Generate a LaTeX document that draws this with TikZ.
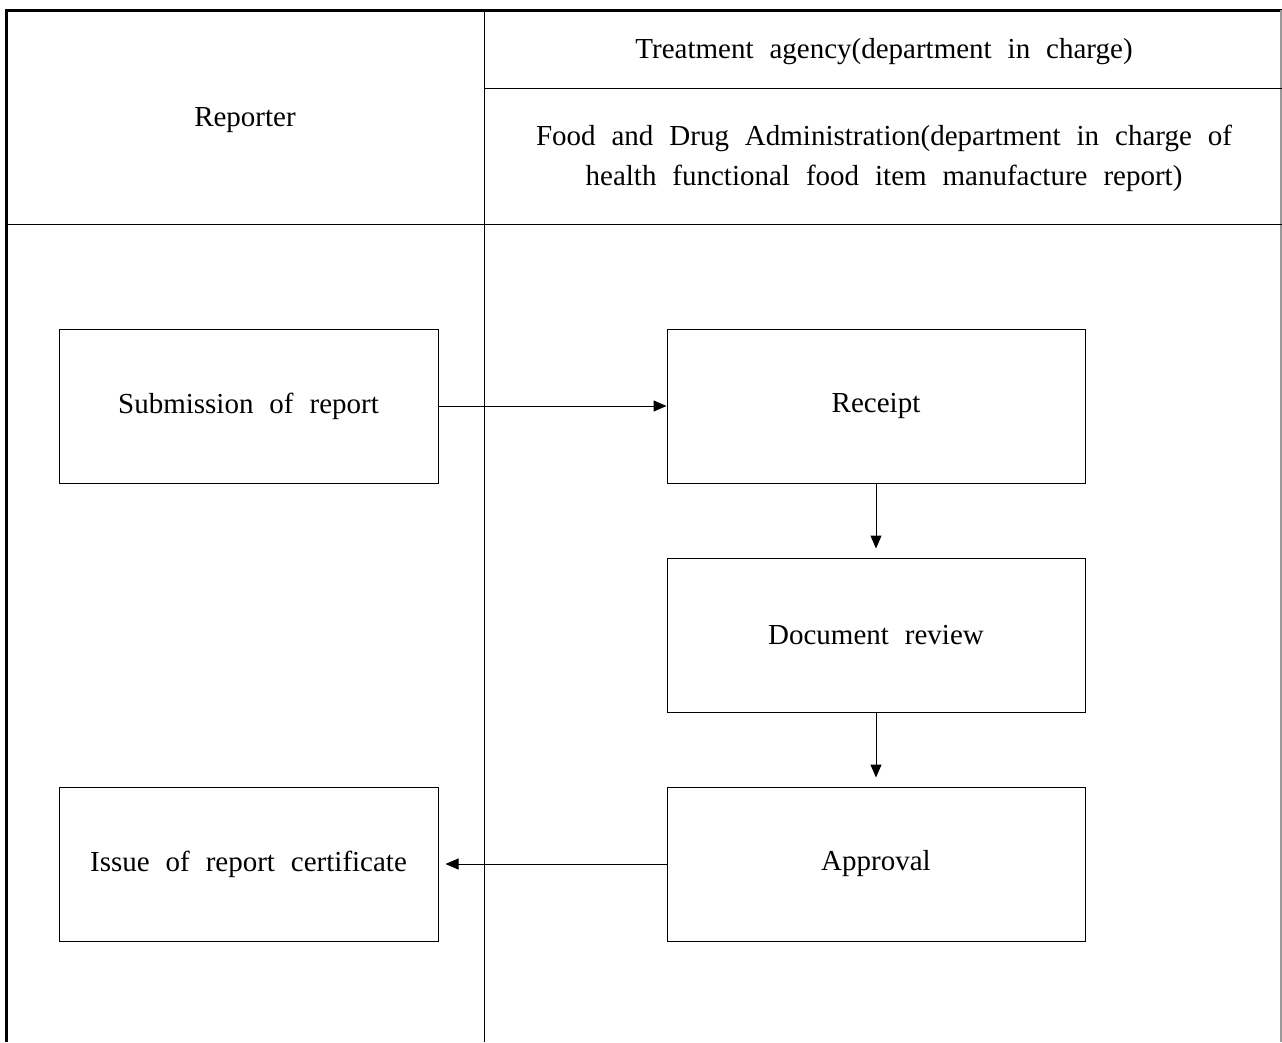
\documentclass[tikz,border=0pt]{standalone}
\usepackage{fontspec}
\setmainfont{Liberation Serif}
\usetikzlibrary{arrows.meta}
\newcommand\widewords{\fontsize{29}{40}\selectfont\spaceskip=0.55em\relax}
\begin{document}
\begin{tikzpicture}[x=1pt,y=-1pt,
  txt/.style={font=\widewords, inner sep=0pt, align=center},
  stepbox/.style={draw, line width=1pt, minimum width=379pt, minimum height=154pt, inner sep=0pt, txt},
  flow/.style={line width=1pt, -{Triangle[length=13pt,width=11pt]}},
  rule/.style={line width=1pt}]
\useasboundingbox (0,0) rectangle (1282,1042);
% table frame
\draw[line width=3pt] (6,1042) -- (6,10) -- (1282,10);
\draw[line width=1.2pt, black!40] (1281,10) -- (1281,1042);
\draw[rule] (484,10) -- (484,1042);
\draw[rule] (484,88) -- (1282,88);
\draw[rule] (6,224) -- (1282,224);
% header texts
\node[txt] (hrep) at (245,120) {Reporter};
\node[txt] (hagency) at (884,52) {Treatment agency(department in charge)};
\node[txt] (hfda) at (884,158) {Food and Drug Administration(department in charge of\\health functional food item manufacture report)};
% process steps
\node[stepbox] (submit) at (248.5,406) {\raisebox{-3pt}{Submission of report}};
\node[stepbox, minimum width=418pt] (receipt) at (876,406) {\raisebox{-3pt}{Receipt}};
\node[stepbox, minimum width=418pt] (review) at (876,635) {\raisebox{-3pt}{Document review}};
\node[stepbox, minimum width=418pt] (approval) at (876,864) {\raisebox{-3pt}{Approval}};
\node[stepbox] (issue) at (248.5,864) {\raisebox{-3pt}{Issue of report certificate}};
% connectors
\draw[flow] (submit.east) -- (receipt.west);
\draw[flow, shorten >=9pt] (receipt.south) -- (review.north);
\draw[flow, shorten >=9pt] (review.south) -- (approval.north);
\draw[flow, shorten >=7pt] (approval.west) -- (issue.east);
\end{tikzpicture}
\end{document}
